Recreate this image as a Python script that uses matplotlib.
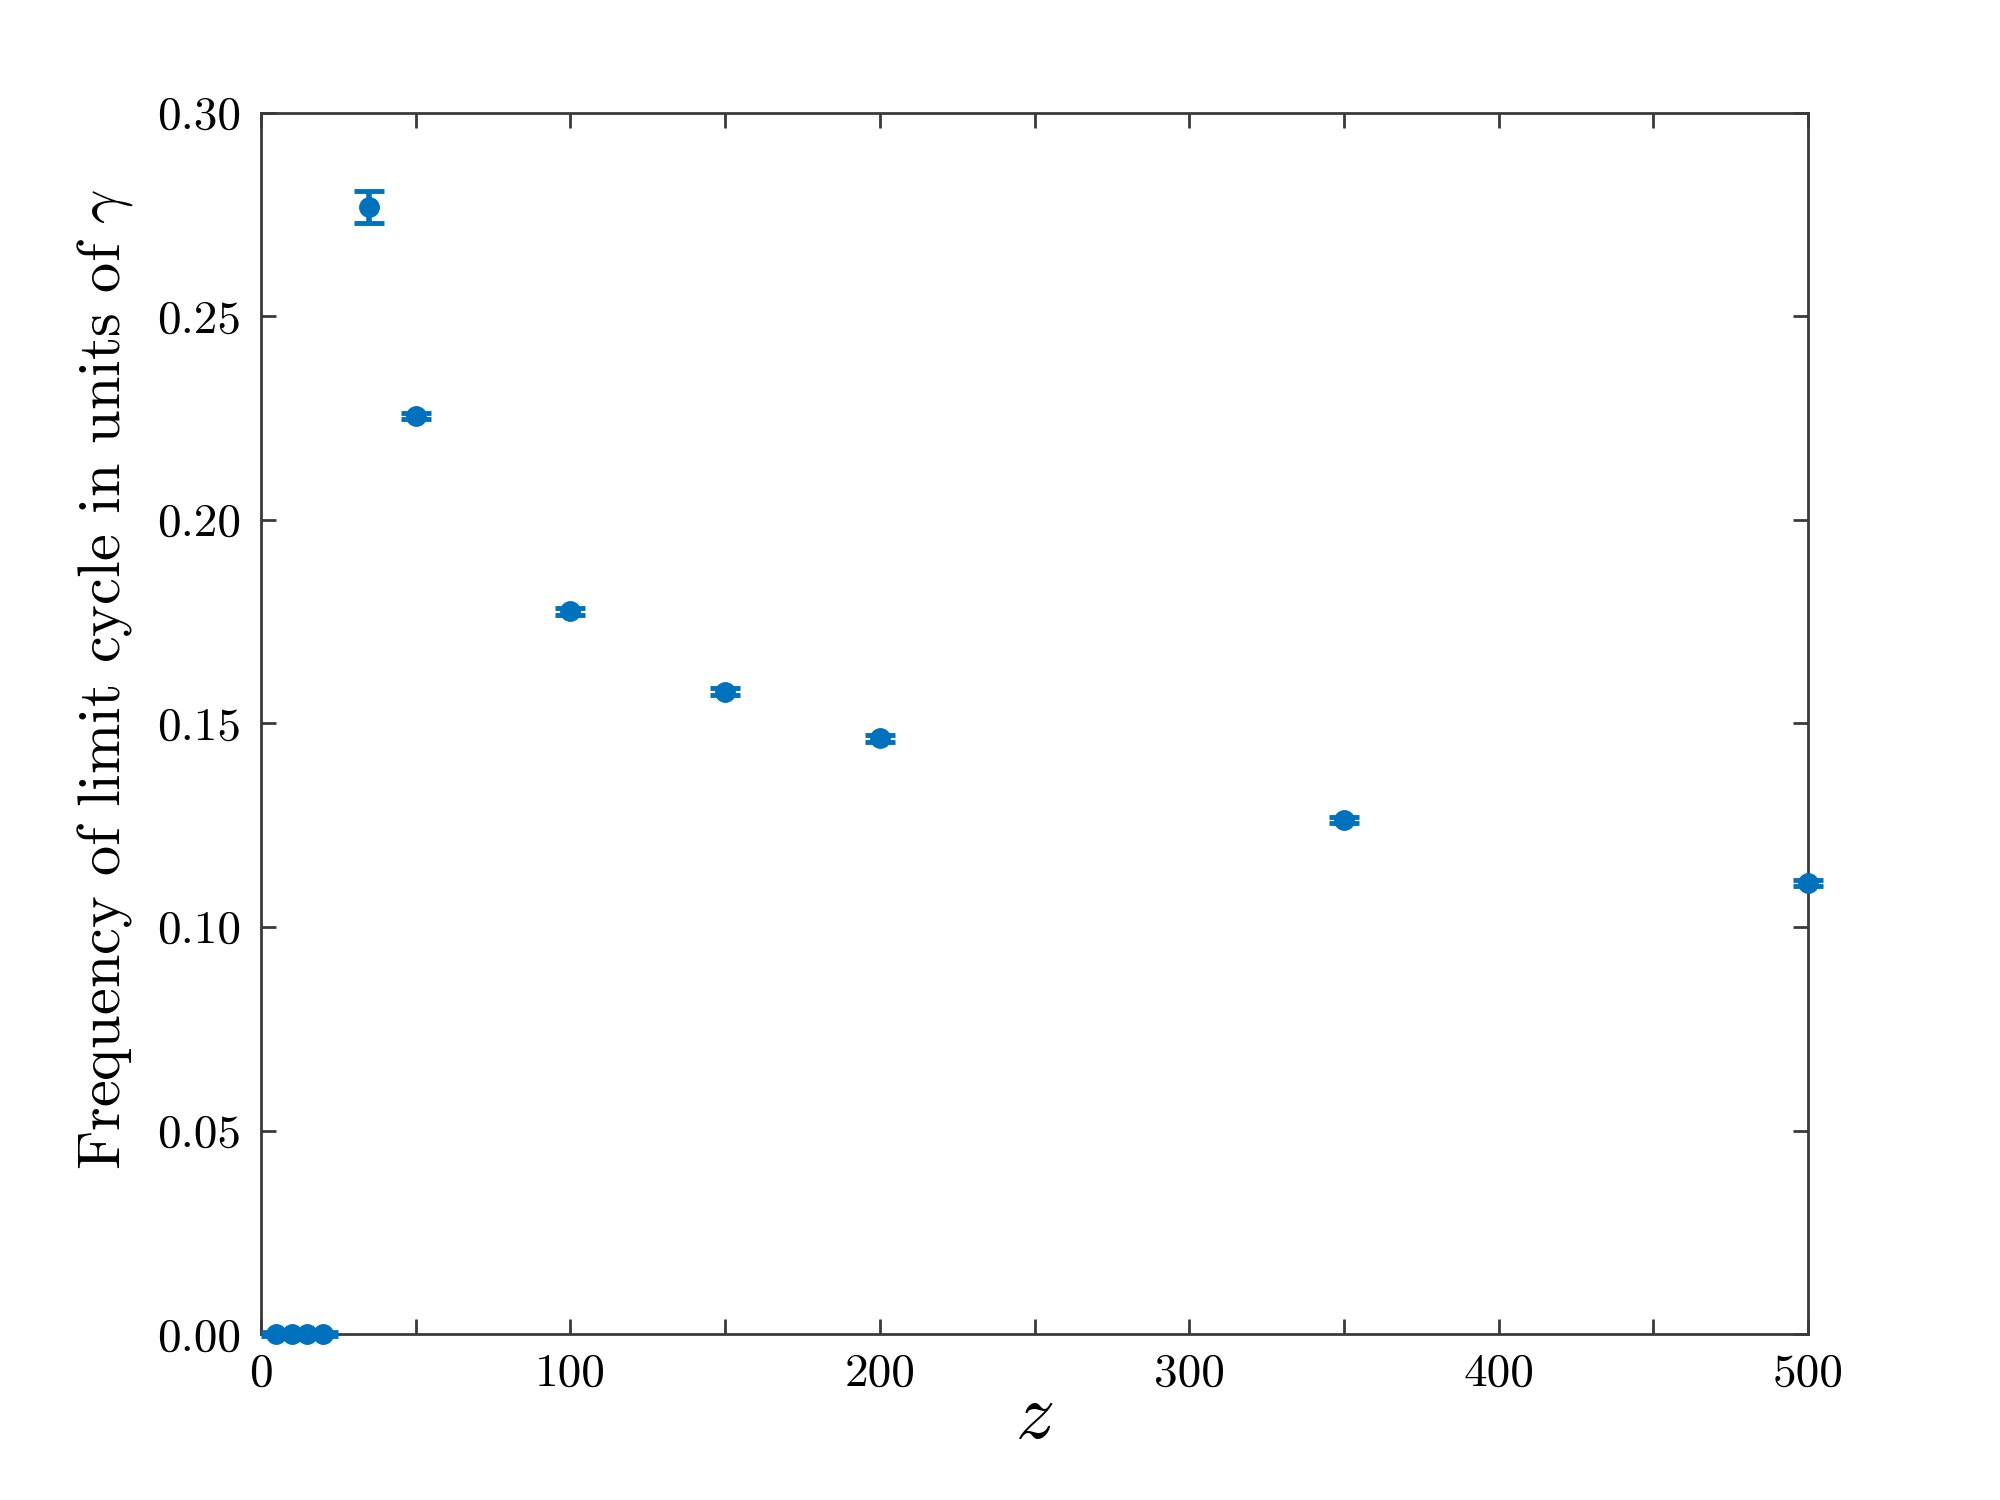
import numpy as np
import matplotlib
matplotlib.use("Agg")
import matplotlib.pyplot as plt

# data
z_vals = [5, 10, 15, 20, 35, 50, 100, 150, 200, 350, 500]
freq = [0.0, 0.0, 0.0, 0.0, 0.2768, 0.2255, 0.1775, 0.1578, 0.1463, 0.1262, 0.1108]
freq_err = [0.0005, 0.0005, 0.0005, 0.0005, 0.0040, 0.0008, 0.0008, 0.0008, 0.0008, 0.0008, 0.0008]

x_ticks = [0, 50, 100, 150, 200, 250, 300, 350, 400, 450, 500]
x_labels = ['0', '', '100', '', '200', '', '300', '', '400', '', '500']
y_ticks = [0.0, 0.05, 0.10, 0.15, 0.20, 0.25, 0.30]
y_labels = ['0.00', '0.05', '0.10', '0.15', '0.20', '0.25', '0.30']

plt.rcParams['font.family'] = 'serif'
plt.rcParams['font.serif'] = ['cmr10', 'DejaVu Serif']
plt.rcParams['mathtext.fontset'] = 'cm'
plt.rcParams['axes.unicode_minus'] = False

blue = '#0072BD'
spine_col = '#3a3a3a'

fig = plt.figure(figsize=(20, 15), dpi=100)
ax = fig.add_axes([0.1305, 0.1106, 0.904 - 0.1305, 0.925 - 0.1106])

ax.errorbar(z_vals, freq, yerr=freq_err, fmt='o', color=blue, ms=14,
            ecolor=blue, elinewidth=4, capsize=11, capthick=3.5, clip_on=False, zorder=3)

ax.set_xlim(0, 500)
ax.set_ylim(0, 0.30)
ax.set_xticks(x_ticks)
ax.set_xticklabels(x_labels)
ax.set_yticks(y_ticks)
ax.set_yticklabels(y_labels)

for s in ax.spines.values():
    s.set_color(spine_col)
    s.set_linewidth(2)

ax.tick_params(direction='in', length=11, width=2, color=spine_col,
               top=True, right=True, labelsize=34, pad=14)

ax.set_xlabel(r'$z$', fontsize=56, labelpad=-8)
ax.set_ylabel(r'Frequency of limit cycle in units of $\gamma$', fontsize=43.5, labelpad=16)
# label sits a bit above the axis centre in the reference
ax.yaxis.label.set_y(0.536)

fig.savefig('out.png', dpi=100)
